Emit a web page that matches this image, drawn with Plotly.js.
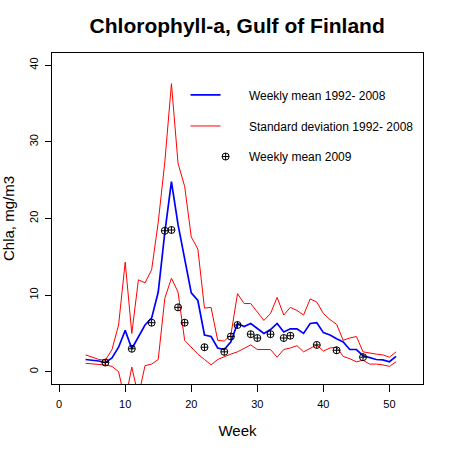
<!DOCTYPE html>
<html>
<head>
<meta charset="utf-8">
<script src="https://cdn.plot.ly/plotly-3.0.1.min.js"></script>
<style>html,body{margin:0;padding:0;background:#fff;}#chart{width:450px;height:450px;}</style>
</head>
<body>
<div id="chart"></div>
<script>
var weeks = [4,5,6,7,8,9,10,11,12,13,14,15,16,17,18,19,20,21,22,23,24,25,26,27,28,29,30,31,32,33,34,35,36,37,38,39,40,41,42,43,44,45,46,47,48,49,50,51];
var meanVals = [1.6,1.5,1.4,1.2,1.8,3.2,5.4,3.0,4.6,6.1,7.0,10.4,18.2,24.8,19.2,14.5,10.3,9.3,4.8,4.6,3.1,2.9,3.9,6.3,5.9,6.3,5.6,5.0,5.5,6.3,5.2,5.6,5.6,5.0,6.3,6.4,5.1,4.8,4.3,3.9,2.9,2.9,2.1,1.8,1.6,1.55,1.3,2.0];
var upperVals = [2.2,1.9,1.6,1.5,2.9,6.1,14.3,5.0,12.0,11.6,13.3,19.5,27.4,37.6,27.2,24.2,17.6,16.0,8.3,8.4,4.1,4.0,4.8,10.2,8.9,8.9,7.8,6.7,7.6,9.7,7.4,8.4,8.0,7.4,9.5,9.1,7.6,6.8,6.2,4.1,4.4,4.6,2.6,2.4,2.3,2.2,1.9,2.6];
var lowerVals = [1.1,1.0,0.95,0.9,0.7,0.0,-3.8,0.6,-3.2,0.8,1.0,1.6,9.6,12.2,10.4,4.1,3.2,2.3,1.6,0.9,1.6,2.0,2.3,2.6,3.0,3.5,2.9,2.9,2.9,1.9,2.9,3.1,3.4,2.6,3.0,3.5,2.7,3.1,3.2,2.0,1.7,1.3,1.5,1.0,1.0,0.9,0.7,1.3];
var weeks2009 = [7,11,14,16,17,18,19,22,25,26,27,29,30,32,34,35,39,42,46];
var vals2009 = [1.2,3.0,6.4,18.4,18.5,8.4,6.4,3.2,2.6,4.6,6.1,4.9,4.4,4.9,4.4,4.7,3.5,2.8,1.9];
var xTicks = [0,10,20,30,40,50];
var yTicks = [0,10,20,30,40];

var FONT = 'Liberation Sans, Arial, Helvetica, sans-serif';
var PAD = '\u00a0\u00a0\u00a0\u00a0\u00a0\u00a0\u00a0';

var traces = [
  {x: weeks, y: meanVals, mode: 'lines', name: PAD + 'Weekly mean 1992- 2008',
   line: {color: '#0000ff', width: 1.7}, legendgroup: 'a'},
  {x: weeks, y: upperVals, mode: 'lines', name: PAD + 'Standard deviation 1992- 2008',
   line: {color: '#ff0000', width: 1}, legendgroup: 'b'},
  {x: weeks, y: lowerVals, mode: 'lines', name: PAD + 'Standard deviation 1992- 2008',
   line: {color: '#ff0000', width: 1}, legendgroup: 'b', showlegend: false},
  {x: weeks2009, y: vals2009, mode: 'markers', name: '\u00a0Weekly mean 2009',
   marker: {symbol: 'circle-cross-open', size: 7, color: '#000', line: {width: 1, color: '#000'}},
   legendgroup: 'c', legend: 'legend2'}
];

var legendFont = {family: FONT, size: 12, color: '#000'};

var layout = {
  width: 450, height: 450,
  paper_bgcolor: '#fff', plot_bgcolor: '#fff',
  margin: {l: 52, r: 27, t: 53, b: 66},
  font: {family: FONT, size: 12, color: '#000'},
  title: {text: '<b>Chlorophyll-a, Gulf of Finland</b>', font: {family: FONT, size: 21, color: '#000'},
          x: 0.527, xanchor: 'center', y: 0.943, yanchor: 'middle'},
  showlegend: true,
  legend: {x: 0.36, y: 0.917, xanchor: 'left', yanchor: 'top', bgcolor: 'rgba(0,0,0,0)',
           font: legendFont, itemwidth: 30, tracegroupgap: 12, traceorder: 'grouped'},
  legend2: {x: 0.414, y: 0.731, xanchor: 'left', yanchor: 'top', bgcolor: 'rgba(0,0,0,0)',
           font: legendFont, itemwidth: 30},
  xaxis: {range: [-1.08, 55.08], tickvals: xTicks, ticktext: xTicks.map(String),
          ticks: 'outside', ticklen: 7, tickcolor: '#000', showgrid: false, zeroline: false,
          showline: true, linecolor: '#000', mirror: true, linewidth: 1, ticklabelstandoff: 3,
          tickfont: {family: FONT, size: 11, color: '#000'},
          title: {text: 'Week', font: {family: FONT, size: 15, color: '#000'}, standoff: 16}},
  yaxis: {range: [-1.6, 41.6], tickvals: yTicks, ticktext: yTicks.map(String),
          ticks: 'outside', ticklen: 6, tickcolor: '#000', showgrid: false, zeroline: false,
          showline: true, linecolor: '#000', mirror: true, linewidth: 1, tickangle: -90,
          ticklabelstandoff: 3,
          tickfont: {family: FONT, size: 11, color: '#000'},
          title: {text: 'Chla, mg/m3', font: {family: FONT, size: 15, color: '#000'}, standoff: 10}}
};

Plotly.newPlot('chart', traces, layout, {displayModeBar: false, staticPlot: true});
</script>
</body>
</html>
